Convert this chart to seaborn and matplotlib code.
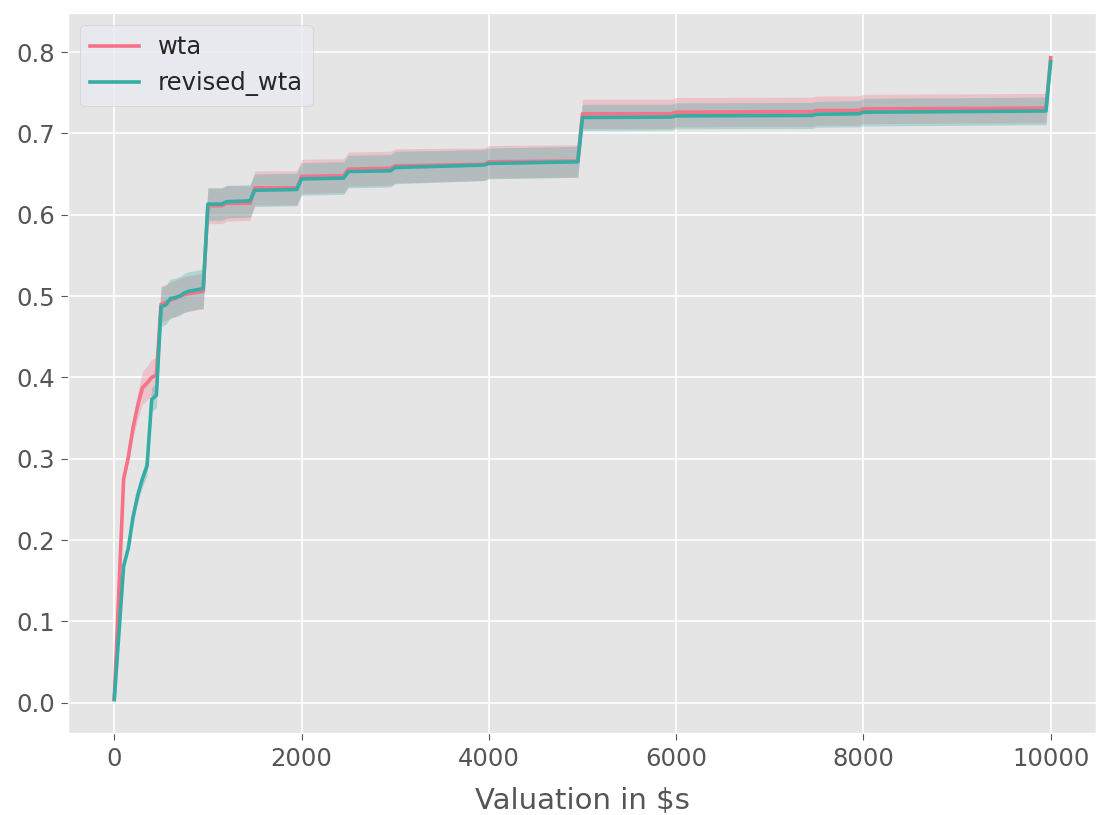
import numpy as np
import pandas as pd
import seaborn as sns
from matplotlib import pyplot as plt

# valuation grid ($) and mean outcome per method, with the half-width of the band
valuation = [0, 100, 150, 200, 250, 300, 350, 400, 450, 500, 550, 600, 650, 700, 750,
             800, 850, 900, 950, 1000, 1150, 1200, 1450, 1500, 1950, 2000, 2450, 2500,
             2950, 3000, 3950, 4000, 4950, 5000, 5950, 6000, 7450, 7500, 7950, 8000,
             9950, 10000]

wta = [0.004, 0.275, 0.302, 0.338, 0.365, 0.387, 0.393, 0.400, 0.403, 0.490, 0.492,
       0.495, 0.497, 0.500, 0.502, 0.503, 0.504, 0.505, 0.506, 0.611, 0.611, 0.614,
       0.614, 0.633, 0.633, 0.647, 0.648, 0.656, 0.657, 0.660, 0.662, 0.665, 0.666,
       0.724, 0.724, 0.726, 0.7265, 0.728, 0.728, 0.730, 0.731, 0.793]
wta_err = [0.0, 0.004, 0.008, 0.012, 0.016, 0.020, 0.021, 0.022, 0.022, 0.022, 0.022,
           0.022, 0.022, 0.022, 0.022, 0.022, 0.022, 0.022, 0.022, 0.022, 0.022, 0.022,
           0.021, 0.021, 0.021, 0.021, 0.021, 0.021, 0.021, 0.021, 0.020, 0.020, 0.020,
           0.018, 0.018, 0.018, 0.018, 0.018, 0.018, 0.018, 0.018, 0.0]

revised_wta = [0.004, 0.168, 0.190, 0.228, 0.255, 0.275, 0.291, 0.373, 0.378, 0.487,
               0.489, 0.497, 0.498, 0.500, 0.504, 0.506, 0.507, 0.508, 0.509, 0.613,
               0.613, 0.616, 0.617, 0.630, 0.631, 0.644, 0.645, 0.653, 0.654, 0.658,
               0.661, 0.663, 0.665, 0.7195, 0.720, 0.7215, 0.722, 0.7235, 0.724, 0.726,
               0.7275, 0.788]
revised_err = [0.0, 0.003, 0.005, 0.008, 0.010, 0.010, 0.012, 0.015, 0.015, 0.024,
               0.024, 0.024, 0.024, 0.024, 0.024, 0.024, 0.024, 0.024, 0.024, 0.020,
               0.020, 0.020, 0.020, 0.020, 0.020, 0.020, 0.020, 0.020, 0.020, 0.020,
               0.019, 0.019, 0.019, 0.016, 0.016, 0.016, 0.016, 0.016, 0.016, 0.017,
               0.017, 0.0]

methods = ['wta', 'revised_wta']

plt.style.use('ggplot')
plt.rcParams['xtick.labelsize'] = 17.5
plt.rcParams['ytick.labelsize'] = 17.5
plt.rcParams['xtick.major.size'] = 4.8
plt.rcParams['ytick.major.size'] = 4.8
plt.rcParams['xtick.major.pad'] = 4.8
plt.rcParams['ytick.major.pad'] = 4.8
plt.rcParams['grid.linewidth'] = 1.2

colors = sns.color_palette('husl', 2)

df = pd.DataFrame({
  'valuation': valuation * 2,
  'value': wta + revised_wta,
  'method': ['wta'] * len(valuation) + ['revised_wta'] * len(valuation),
})

fig = plt.figure(figsize=(10.96, 8.15), dpi=100)
ax = fig.add_axes([0.0623, 0.1002, 0.9377, 0.8835])

for mean, err, c in [(wta, wta_err, colors[0]), (revised_wta, revised_err, colors[1])]:
  m = np.array(mean)
  e = np.array(err)
  ax.fill_between(valuation, m - e, m + e, color=c, alpha=0.3, linewidth=0)

sns.lineplot(data=df, x='valuation', y='value', hue='method', hue_order=methods,
             palette=colors, linewidth=2.6, ax=ax)

ax.set_xlim(-491, 10484)
ax.set_ylim(-0.0376, 0.8476)
ax.set_xticks([0, 2000, 4000, 6000, 8000, 10000])
ax.set_yticks([0.0, 0.1, 0.2, 0.3, 0.4, 0.5, 0.6, 0.7, 0.8])
ax.set_xlabel('Valuation in $s', fontsize=21, labelpad=12)
ax.set_ylabel('')

leg = ax.legend(loc='upper left', fontsize=17.5, facecolor='#EAEAF2', framealpha=0.8,
                edgecolor='#CCCCCC', borderaxespad=0.5, labelcolor='#262626')
for line in leg.get_lines():
  line.set_linewidth(2.6)

fig.savefig('out.png', dpi=100)
